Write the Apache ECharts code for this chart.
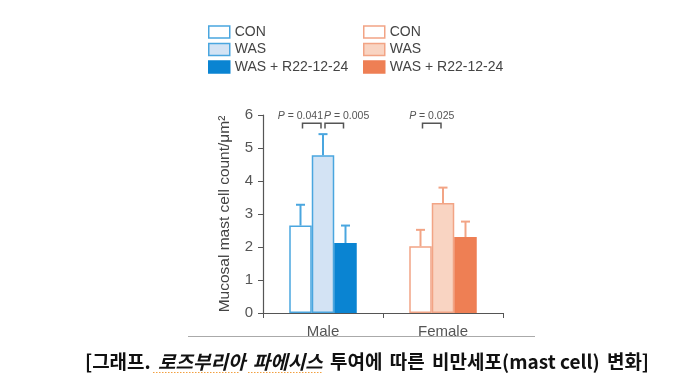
<!DOCTYPE html>
<html><head><meta charset="utf-8">
<script src="https://cdn.jsdelivr.net/npm/echarts@6/dist/echarts.min.js"></script>
<style>html,body{margin:0;padding:0;background:#fff}#c{width:700px;height:392px}</style>
</head><body><div id="c"></div>
<script>
// ---- data ----
const categories = ['Male', 'Female'];
const groupNames = ['CON', 'WAS', 'WAS + R22-12-24'];
const maleMeans = [2.65, 4.78, 2.12];
const maleSEM = [0.63, 0.64, 0.53];
const femaleMeans = [2.02, 3.33, 2.30];
const femaleSEM = [0.50, 0.47, 0.47];
const yTicks = [0, 1, 2, 3, 4, 5, 6];
const bracketCat = [0, 0, 1];
const bracketFrom = [0, 1, 0];
const bracketTo = [1, 2, 1];
const bracketLevel = [5.75, 5.75, 5.75];
const bracketP = ['0.041', '0.005', '0.025'];

// ---- styles ----
const maleFill = ['#ffffff', '#d3e3f4', '#0a84d2'];
const maleBorder = ['#4aa6df', '#4aa6df', '#0a84d2'];
const femaleFill = ['#ffffff', '#f9d4c2', '#ee7f54'];
const femaleBorder = ['#f2a485', '#f2a485', '#ee7f54'];
const errColor = ['#4aa6df', '#f2a485'];
const labelAlign = ['right', 'left', 'center'];
const BARFRAC = 0.1875;

const chart = echarts.init(document.getElementById('c'));
const series = [];
const stacks = ['s0', 's1', 's2'];
const legendM = [], legendF = [];
groupNames.forEach((g, i) => {
  const mName = 'M|' + g, fName = 'F|' + g;
  legendM.push(mName); legendF.push(fName);
  series.push({
    name: mName, type: 'bar', stack: stacks[i], barWidth: (BARFRAC * 100) + '%', barGap: '0%',
    itemStyle: { color: maleFill[i], borderColor: maleBorder[i], borderWidth: 1.5 },
    data: [maleMeans[i], '-'], z: 2
  });
  series.push({
    name: fName, type: 'bar', stack: stacks[i], barWidth: (BARFRAC * 100) + '%', barGap: '0%',
    itemStyle: { color: femaleFill[i], borderColor: femaleBorder[i], borderWidth: 1.5 },
    data: ['-', femaleMeans[i]], z: 2
  });
});

// error bars
const errData = [];
[maleMeans, femaleMeans].forEach((means, c) => {
  const sem = c === 0 ? maleSEM : femaleSEM;
  means.forEach((m, s) => errData.push([c, m, m + sem[s], s]));
});
series.push({
  type: 'custom', name: 'err', z: 1, silent: true,
  renderItem: function (params, api) {
    const c = api.value(0), s = api.value(3);
    const bw = api.size([1, 0])[0] * BARFRAC;
    const base = api.coord([c, api.value(1)]);
    const top = api.coord([c, api.value(2)]);
    const x = base[0] + (s - 1) * bw;
    const col = errColor[c];
    const cap = 4.5;
    return {
      type: 'group', children: [
        { type: 'line', shape: { x1: x, y1: base[1], x2: x, y2: top[1] }, style: { stroke: col, lineWidth: 2 } },
        { type: 'line', shape: { x1: x - cap, y1: top[1], x2: x + cap, y2: top[1] }, style: { stroke: col, lineWidth: 2 } }
      ]
    };
  },
  data: errData
});

// significance brackets
const brData = bracketCat.map((c, i) => [c, bracketLevel[i], bracketFrom[i], bracketTo[i], i]);
series.push({
  type: 'custom', name: 'brackets', z: 3, silent: true,
  renderItem: function (params, api) {
    const c = api.value(0), i = api.value(4);
    const bw = api.size([1, 0])[0] * BARFRAC;
    const p = api.coord([c, api.value(1)]);
    const leg = api.size([0, 0.16])[1];
    const inset = 2;
    const x1 = p[0] + (api.value(2) - 1) * bw + inset;
    const x2 = p[0] + (api.value(3) - 1) * bw - inset;
    const al = labelAlign[i];
    const tx = al === 'right' ? x2 + 2 : al === 'left' ? x1 - 1 : (x1 + x2) / 2;
    return {
      type: 'group', children: [
        { type: 'polyline', shape: { points: [[x1, p[1] + leg], [x1, p[1]], [x2, p[1]], [x2, p[1] + leg]] },
          style: { stroke: '#555', lineWidth: 1.5, fill: null } },
        { type: 'text', x: tx, y: p[1] - 7,
          style: { text: '{i|P} = ' + bracketP[i], align: al, verticalAlign: 'middle',
            fontFamily: 'Liberation Sans', fontSize: 10.5, fill: '#555',
            rich: { i: { fontStyle: 'italic', fontFamily: 'Liberation Sans', fontSize: 10.5, fill: '#555' } } } }
      ]
    };
  },
  data: brData
});

const legendCommon = {
  orient: 'vertical', icon: 'rect', itemWidth: 21, itemHeight: 12, itemGap: 3.5,
  selectedMode: false,
  textStyle: { fontFamily: 'Liberation Sans', fontSize: 14, color: '#444', padding: [0, 0, 0, 0] },
  formatter: function (n) { return n.split('|')[1]; },
  itemStyle: { borderWidth: 1.5 }
};

const capFont = { fontFamily: 'Noto Sans CJK KR', fontWeight: 'bold', fontSize: 19, color: '#111', padding: [0, 1.5, 0, 1.5] };

chart.setOption({
  animation: false,
  grid: { left: 263, right: 197, top: 115, bottom: 79 },
  legend: [
    Object.assign({ left: 203, top: 20, data: legendM }, legendCommon),
    Object.assign({ left: 358, top: 20, data: legendF }, legendCommon)
  ],
  title: {
    text: '{w|[그래프.} {i|로즈부리아} {i|파에시스} {w|투여에} {w|따른} {w|비만세포(mast cell)} {w|변화]}',
    left: 362, textAlign: 'center', top: 347,
    textStyle: {
      fontFamily: 'Noto Sans CJK KR', fontWeight: 'bold', fontSize: 19, color: '#111',
      rich: {
        w: capFont,
        i: Object.assign({}, capFont, { fontStyle: 'italic' })
      }
    }
  },
  graphic: [
    { type: 'line', shape: { x1: 188, y1: 336.5, x2: 535, y2: 336.5 }, style: { stroke: '#aaa', lineWidth: 1 } },
    { type: 'line', shape: { x1: 153, y1: 372.5, x2: 240, y2: 372.5 }, style: { stroke: '#f2a040', lineWidth: 1, lineDash: [1.5, 1.5] } },
    { type: 'line', shape: { x1: 248, y1: 372.5, x2: 322, y2: 372.5 }, style: { stroke: '#f2a040', lineWidth: 1, lineDash: [1.5, 1.5] } }
  ],
  xAxis: {
    type: 'category', data: categories,
    axisLine: { lineStyle: { color: '#555', width: 1.2 } },
    axisTick: { show: true, length: 5, lineStyle: { color: '#555' } },
    axisLabel: { fontFamily: 'Liberation Sans', fontSize: 15, color: '#555', margin: 11 }
  },
  yAxis: {
    type: 'value', min: yTicks[0], max: yTicks[yTicks.length - 1], interval: 1,
    name: 'Mucosal mast cell count/μm²', nameLocation: 'middle', nameGap: 30,
    nameTextStyle: { fontFamily: 'Liberation Sans', fontSize: 15.5, color: '#444' },
    axisLine: { show: true, lineStyle: { color: '#555', width: 1.2 } },
    axisTick: { show: true, length: 5, lineStyle: { color: '#555' } },
    axisLabel: { fontFamily: 'Liberation Sans', fontSize: 15, color: '#555', margin: 10 },
    splitLine: { show: false }
  },
  series: series
});
</script></body></html>
